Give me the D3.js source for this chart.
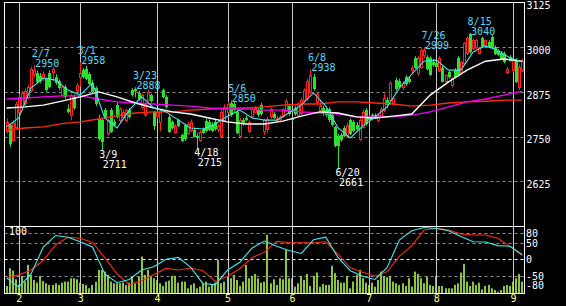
<!DOCTYPE html>
<html>
<head>
<meta charset="utf-8">
<script src="https://cdn.jsdelivr.net/npm/d3@7"></script>
<style>
	body { margin: 0; background: #000; }
	svg { display: block; }
	text { font-family: "DejaVu Sans Mono", monospace; font-size: 10px; }
</style>
</head>
<body>
<div id="chart"></div>
<script>
// daily candles [open, high, low, close]
var candles = [
	[2765,2800,2758,2792],[2782,2786,2720,2730],[2740,2795,2735,2788],[2778,2848,2770,2840],[2820,2868,2815,2862],
	[2832,2878,2825,2872],[2845,2885,2835,2878],[2862,2895,2855,2890],[2880,2945,2875,2940],[2925,2950,2915,2935],
	[2928,2935,2898,2902],[2920,2928,2900,2905],[2915,2932,2905,2925],[2910,2915,2875,2880],[2928,2935,2885,2888],
	[2930,2945,2905,2938],[2918,2925,2895,2900],[2905,2910,2880,2885],[2866,2892,2860,2888],[2888,2895,2855,2860],
	[2826,2840,2815,2818],[2810,2870,2795,2866],[2862,2868,2825,2830],[2880,2900,2875,2895],[2918,2958,2890,2928],
	[2935,2942,2912,2918],[2940,2948,2908,2912],[2925,2930,2895,2898],[2900,2908,2870,2875],[2885,2890,2835,2840],
	[2800,2810,2738,2742],[2796,2800,2711,2734],[2824,2830,2802,2805],[2760,2800,2752,2796],[2824,2830,2760,2762],
	[2790,2798,2778,2782],[2838,2845,2800,2806],[2796,2832,2790,2828],[2805,2826,2800,2820],[2796,2828,2790,2824],
	[2824,2830,2800,2806],[2880,2885,2862,2866],[2882,2888,2860,2878],[2872,2878,2850,2855],[2833,2870,2825,2866],
	[2812,2845,2805,2840],[2852,2882,2848,2874],[2866,2870,2845,2850],[2818,2822,2768,2780],[2808,2822,2800,2818],
	[2790,2825,2765,2818],[2880,2884,2858,2862],[2860,2866,2828,2832],[2806,2812,2760,2764],[2790,2795,2770,2774],
	[2764,2785,2758,2780],[2796,2800,2776,2780],[2754,2758,2734,2736],[2782,2786,2738,2742],[2760,2790,2755,2785],
	[2768,2798,2762,2792],[2768,2775,2748,2750],[2752,2760,2715,2745],[2740,2768,2735,2762],[2770,2775,2758,2760],
	[2794,2800,2762,2766],[2790,2798,2765,2768],[2782,2790,2762,2766],[2792,2800,2766,2770],[2770,2785,2762,2780],
	[2752,2825,2745,2818],[2796,2840,2790,2834],[2820,2848,2815,2840],[2845,2850,2805,2810],[2842,2848,2820,2825],
	[2820,2826,2756,2760],[2752,2802,2745,2796],[2796,2802,2780,2784],[2802,2808,2794,2796],[2765,2795,2760,2790],
	[2808,2832,2802,2826],[2820,2835,2815,2830],[2824,2830,2805,2810],[2838,2845,2808,2812],[2765,2800,2755,2796],
	[2770,2805,2760,2798],[2808,2830,2800,2826],[2812,2818,2800,2803],[2800,2808,2792,2802],[2798,2810,2790,2806],
	[2808,2830,2802,2826],[2824,2855,2818,2850],[2836,2842,2808,2812],[2800,2806,2792,2795],[2830,2836,2808,2812],
	[2810,2845,2805,2840],[2816,2858,2810,2852],[2852,2885,2845,2880],[2858,2912,2850,2906],[2875,2938,2868,2922],
	[2918,2925,2878,2882],[2848,2875,2840,2870],[2825,2850,2815,2835],[2830,2836,2808,2812],[2824,2830,2805,2810],
	[2826,2832,2790,2796],[2810,2815,2778,2782],[2777,2780,2720,2724],[2752,2758,2661,2724],[2755,2760,2735,2740],
	[2775,2780,2748,2752],[2752,2790,2745,2782],[2796,2800,2754,2758],[2790,2796,2762,2766],[2782,2790,2766,2770],
	[2742,2802,2738,2796],[2778,2826,2772,2820],[2824,2830,2780,2786],[2805,2812,2790,2796],[2810,2815,2795,2800],
	[2810,2815,2800,2804],[2796,2815,2790,2810],[2808,2832,2802,2828],[2824,2870,2818,2858],[2852,2860,2830,2838],
	[2852,2905,2845,2900],[2845,2862,2838,2858],[2908,2915,2878,2882],[2906,2912,2885,2890],[2890,2905,2880,2900],
	[2917,2922,2892,2896],[2912,2918,2898,2902],[2935,2950,2925,2942],[2970,2975,2940,2943],[2928,2975,2922,2970],
	[2945,2998,2940,2992],[2978,2999,2970,2992],[2972,2978,2935,2938],[2970,2975,2920,2922],[2960,2968,2945,2950],
	[2955,2960,2940,2945],[2935,2975,2930,2970],[2942,2948,2902,2904],[2905,2925,2898,2922],[2930,2935,2912,2916],
	[2895,2918,2888,2915],[2936,2942,2915,2918],[2970,2975,2918,2922],[2930,2962,2925,2958],[2955,3015,2950,3012],
	[2984,3030,2978,3026],[3036,3040,2982,2986],[2998,3025,2992,3020],[3000,3024,2995,3020],[2985,3002,2980,2998],
	[3026,3030,2998,3002],[3006,3022,3000,3020],[3015,3020,2998,3000],[3028,3034,2998,3000],[3000,3005,2978,2980],
	[2990,2995,2976,2978],[2985,2990,2965,2968],[2982,2988,2955,2958],[2932,2945,2925,2940],[2972,2978,2960,2962],
	[2935,2968,2930,2964],[2964,2970,2900,2904],[2890,2952,2880,2945],[2935,2968,2930,2962]
];

// daily volume (arbitrary units)
var volumes = [
	105,370,335,205,120,255,170,420,270,195,155,255,180,145,120,120,145,120,155,170,
	170,220,220,205,155,135,120,70,120,170,345,345,320,270,170,145,145,145,155,120,
	155,245,145,245,545,270,345,245,220,195,145,105,170,185,255,255,155,170,
	170,70,120,145,70,95,145,170,95,120,155,495,145,170,245,220,270,195,105,170,
	420,220,255,285,220,155,170,870,145,205,120,220,205,645,220,220,95,145,255,195,
	285,105,255,305,95,135,120,120,405,295,195,155,155,255,70,170,270,345,220,155,
	120,155,
	95,195,320,255,235,255,170,145,120,145,105,220,95,320,285,220,145,245,120,105,
	255,105,105,70,70,70,120,145,305,435,170,105,170,120,155,55,105,120,70,45,
	20,45,105,120,105,170,220,285,170
];

// moving averages, read every 4 (cyan) or 6 (others) bars
var maCyan = [2777,2802,2886,2914,2908,2880,2866,2900,2802,2774,2824,2861,2830,2819,2796,2774,2771,2785,2807,2824,
	2802,2796,2796,2816,2838,2872,2835,2774,2746,2779,2805,2833,2886,2925,2961,2964,2936,2936,2987,3004,2992,2970,2959];
var maWhite = [2830,2833,2838,2849,2861,2875,2861,2844,2830,2819,2813,2802,2791,2785,2785,2793,2807,2819,2816,2805,
	2802,2807,2813,2866,2903,2936,2961,2967,2961];
var maMagenta = [2855,2858,2861,2864,2864,2855,2847,2844,2841,2838,2835,2830,2827,2827,2824,2824,2819,2816,2813,2805,
	2805,2805,2810,2819,2833,2847,2855,2866,2877];
var maRed = [2768,2774,2777,2786,2791,2799,2808,2816,2819,2819,2824,2827,2830,2830,2833,2838,2841,2841,2847,2847,
	2844,2841,2835,2838,2844,2847,2849,2852,2852];

// oscillator lines, every 4 bars
var oscCyan = [-58,-85,-45,38,73,68,54,38,-45,-72,-62,-33,-23,0,6,-25,-75,-78,-33,-9,
	35,56,40,27,18,60,68,5,-35,-52,-62,-25,60,88,98,95,88,70,54,53,42,40,14];
var oscRed = [-58,-48,-33,-3,45,68,65,52,5,-45,-78,-66,-47,-28,-33,-27,-35,-68,-52,-29,
	5,22,55,51,51,51,54,15,-26,-40,-52,-38,10,42,90,95,90,78,75,75,65,39,12];

var months = ['2','3','4','5','6','7','8','9'];
var monthStart = [4,24,49,72,93,118,140,165];
var priceTicks = [3125,3000,2875,2750,2625];
var oscTicks = [80,50,0,-50,-80];

// peaks and troughs that carry a label
var marks = [
	{i: 9, date: '2/7', kind: 'high'},
	{i: 24, date: '3/1', kind: 'high'},
	{i: 31, date: '3/9', kind: 'low'},
	{i: 42, date: '3/23', kind: 'high'},
	{i: 62, date: '4/18', kind: 'low'},
	{i: 73, date: '5/6', kind: 'high'},
	{i: 99, date: '6/8', kind: 'high'},
	{i: 108, date: '6/20', kind: 'low'},
	{i: 136, date: '7/26', kind: 'high'},
	{i: 151, date: '8/15', kind: 'high'}
];

(function () {
	var width = 566, height = 306;
	var left = 4.5, right = 524.5, top = 2.5, mid = 226.5, bottom = 293.5;

	var x = d3.scaleLinear().domain([0, candles.length - 1]).range([6.5, 522.3]);
	var y = d3.scaleLinear().domain([2500, 3125]).range([225.7, 2.7]);
	var yOsc = d3.scaleLinear().domain([-100, 100]).range([291.8, 226.8]);
	var yVol = d3.scaleLinear().domain([0, 1000]).range([293, 226]);

	var col = {
		up: '#ff2020', down: '#2ee02e', cyan: '#40e8f0', cyanText: '#50dcff',
		magenta: '#f000f0', red: '#ff2a10', vol: '#8cc63f', grid: '#8c8c8c', vgrid: '#c8c8c8'
	};

	var svg = d3.select('#chart').append('svg')
		.attr('width', width).attr('height', height);
	svg.append('rect').attr('width', width).attr('height', height).attr('fill', '#000');

	// dashed grid, price panel
	svg.append('g').selectAll('line').data(priceTicks.slice(1)).join('line')
		.attr('x1', left).attr('x2', right)
		.attr('y1', d => Math.round(y(d)) + 0.5).attr('y2', d => Math.round(y(d)) + 0.5)
		.attr('stroke', col.grid).attr('stroke-dasharray', '3,3');

	// dashed grid, oscillator panel
	svg.append('g').selectAll('line').data([80, 50, 0, -50]).join('line')
		.attr('x1', left).attr('x2', right)
		.attr('y1', d => Math.round(yOsc(d)) + 0.5).attr('y2', d => Math.round(yOsc(d)) + 0.5)
		.attr('stroke', d => d === 0 ? '#fff' : col.grid).attr('stroke-dasharray', '3,3');

	// volume bars
	svg.append('g').selectAll('rect').data(volumes).join('rect')
		.attr('x', (d, i) => Math.round(x(i)) - 1)
		.attr('y', d => yVol(d))
		.attr('width', 2)
		.attr('height', d => 293 - yVol(d))
		.attr('fill', col.vol);

	// month lines
	svg.append('g').selectAll('line').data(monthStart).join('line')
		.attr('x1', d => Math.round(x(d)) + 0.5).attr('x2', d => Math.round(x(d)) + 0.5)
		.attr('y1', top).attr('y2', bottom)
		.attr('stroke', col.vgrid);

	// candles
	var g = svg.append('g');
	candles.forEach(function (d, i) {
		var cx = Math.round(x(i));
		var o = y(d[0]), h = y(d[1]), l = y(d[2]), c = y(d[3]);
		if (d[3] >= d[0]) {
			var t = Math.round(c), b = Math.max(Math.round(o), t + 2);
			g.append('line').attr('x1', cx + 0.5).attr('x2', cx + 0.5).attr('y1', h).attr('y2', t)
				.attr('stroke', col.up);
			g.append('line').attr('x1', cx + 0.5).attr('x2', cx + 0.5).attr('y1', b).attr('y2', l)
				.attr('stroke', col.up);
			g.append('rect').attr('x', cx - 0.5).attr('y', t + 0.5)
				.attr('width', 2).attr('height', b - t)
				.attr('fill', '#000').attr('stroke', col.up);
		} else {
			g.append('line').attr('x1', cx + 0.5).attr('x2', cx + 0.5).attr('y1', h).attr('y2', l)
				.attr('stroke', col.down);
			g.append('rect').attr('x', cx - 1).attr('y', Math.round(o))
				.attr('width', 3).attr('height', Math.max(1, Math.round(c) - Math.round(o)))
				.attr('fill', col.down);
		}
	});

	// moving averages
	function maLine(step, scale) {
		return d3.line().x((d, k) => x(k * step)).y(d => scale(d));
	}
	svg.append('path').attr('d', maLine(6, y)(maRed))
		.attr('fill', 'none').attr('stroke', col.red).attr('stroke-width', 1.4);
	svg.append('path').attr('d', maLine(6, y)(maMagenta))
		.attr('fill', 'none').attr('stroke', col.magenta).attr('stroke-width', 1.4);
	svg.append('path').attr('d', maLine(6, y)(maWhite))
		.attr('fill', 'none').attr('stroke', '#fff').attr('stroke-width', 1.4);
	svg.append('path').attr('d', maLine(4, y)(maCyan))
		.attr('fill', 'none').attr('stroke', col.cyan).attr('stroke-width', 1.1);

	// oscillator lines
	svg.append('path').attr('d', maLine(4, yOsc)(oscRed))
		.attr('fill', 'none').attr('stroke', col.red).attr('stroke-width', 1.1);
	svg.append('path').attr('d', maLine(4, yOsc)(oscCyan))
		.attr('fill', 'none').attr('stroke', col.cyan).attr('stroke-width', 1.1);

	// frame
	var frame = svg.append('g').attr('stroke', '#fff').attr('fill', 'none');
	frame.append('rect').attr('x', left).attr('y', top)
		.attr('width', right - left).attr('height', bottom - top);
	frame.append('line').attr('x1', left).attr('x2', right).attr('y1', mid).attr('y2', mid);

	// peak / trough labels: date over value
	var lab = svg.append('g');
	marks.forEach(function (m) {
		var d = candles[m.i], cx = x(m.i);
		var hi = m.kind === 'high';
		var v = hi ? d[1] : d[2];
		var y1 = hi ? y(v) - 8.5 : y(v) + 7.5;
		var fill = hi ? col.cyanText : '#fff';
		lab.append('text').attr('x', cx - 2.5).attr('y', y1).attr('font-size', 8.5)
			.attr('fill', fill).text(m.date);
		lab.append('text').attr('x', cx + 1).attr('y', y1 + 10).attr('font-size', 8.5)
			.attr('fill', fill).text(v);
	});

	// axes
	var ax1 = svg.append('g').attr('transform', 'translate(' + right + ',0)')
		.call(d3.axisRight(y).tickValues(priceTicks).tickSize(0).tickPadding(2)
			.tickFormat(d3.format('d')));
	var ax2 = svg.append('g').attr('transform', 'translate(' + right + ',0)')
		.call(d3.axisRight(yOsc).tickValues(oscTicks).tickSize(0).tickPadding(1.5)
			.tickFormat(d => d < 0 ? '-' + (-d) : String(d)));
	var ax3 = svg.append('g').attr('transform', 'translate(0,' + 293 + ')')
		.call(d3.axisBottom(x).tickValues(monthStart).tickSize(0).tickPadding(2)
			.tickFormat((d, i) => months[i]));
	[ax1, ax2, ax3].forEach(function (a) {
		a.select('.domain').remove();
		a.selectAll('text').attr('font-family', '"DejaVu Sans Mono", monospace').attr('font-size', 10);
	});
	ax1.selectAll('text').attr('fill', '#fff').attr('dy', '0.62em');
	ax2.selectAll('text').attr('fill', '#fff').attr('dy', '0.36em').attr('font-size', 8.5);
	ax3.selectAll('text').attr('fill', '#ffff88');

	svg.append('text').attr('x', 9).attr('y', 235).attr('fill', '#fff').text('100');
})();
</script>
</body>
</html>
